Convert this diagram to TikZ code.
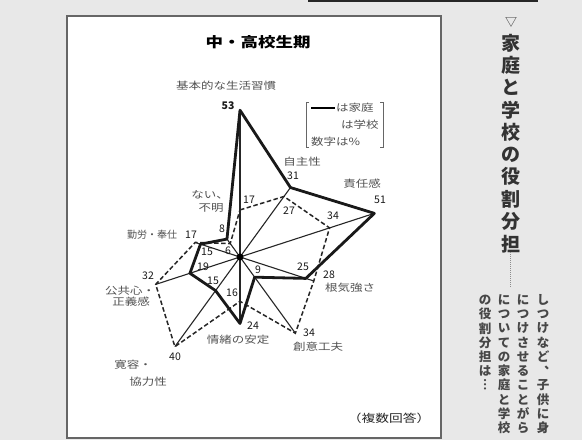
\documentclass[tikz,border=0pt]{standalone}
\usepackage{fontspec}
\newfontfamily\jp{Noto Sans CJK JP}
\newfontfamily\jpw{Noto Sans CJK JP}[FakeStretch=1.25]
\begin{document}
\begin{tikzpicture}[x=1pt,y=-1pt,
  lab/.style={font=\jpw\fontsize{10}{10}\selectfont, text=black!68, inner sep=0},
  num/.style={font=\jp\fontsize{10.5}{10.5}\selectfont, text=black!90, inner sep=0},
  homeline/.style={line width=2.8pt, line join=round, black!90},
  schoolline/.style={line width=1.5pt, dash pattern=on 4.5pt off 2.5pt, black!85},
  axisline/.style={line width=1.1pt, black!85},
  hd/.style={font=\jp\bfseries\fontsize{19}{19}\selectfont, text=black!80, inner sep=0},
  colt/.style={font=\jp\bfseries\fontsize{12.5}{12.5}\selectfont, text=black!72, inner sep=0}]
\useasboundingbox (0,0) rectangle (582,440);
\fill[black!9] (0,0) rectangle (582,440);
\draw[black!60, line width=1.8pt, fill=white] (67,16) rectangle (441,438);
\coordinate (tl1) at (308,1);
\coordinate (tl2) at (538,1);
\draw[line width=1.8pt, black!85] (tl1) -- (tl2);

% title
\node[font=\jpw\bfseries\fontsize{14}{14}\selectfont, inner sep=0] (title) at (258,42) {中・高校生期};

% radar
\begin{scope}[shift={(240,257)}]
\coordinate (O) at (0,0);
\foreach \n/\a/\h/\s in {A/-90/53/17, B/-54/31/27, C/-18/51/34, D/18/25/28, E/54/9/34, F/90/24/16, G/126/15/40, H/162/19/32, I/198/15/17, J/234/8/6} {
  \pgfmathsetmacro\m{max(\h,\s)}
  \coordinate (h\n) at (\a:\h*2.77);
  \coordinate (s\n) at (\a:\s*2.77);
  \coordinate (e\n) at (\a:\m*2.77);
}
\end{scope}
\foreach \n in {A,B,C,D,E,F,G,H,I,J} \draw[axisline] (O) -- (e\n);
\draw[schoolline] (sA) -- (sB) -- (sC) -- (sD) -- (sE) -- (sF) -- (sG) -- (sH) -- (sI) -- (sJ) -- cycle;
\draw[homeline] (hA) -- (hB) -- (hC) -- (hD) -- (hE) -- (hF) -- (hG) -- (hH) -- (hI) -- (hJ) -- cycle;
\fill[black] (O) circle (3.5);

% numbers
\node[num, font=\jp\bfseries\fontsize{10.5}{10.5}\selectfont] (n53) at (228,106) {53};
\node[num] (n17a) at (249,200) {17};
\node[num] (n27) at (289,211) {27};
\node[num] (n31) at (293,176) {31};
\node[num] (n34a) at (333,216) {34};
\node[num] (n51) at (380,200) {51};
\node[num] (n25) at (303,267) {25};
\node[num] (n28) at (329,275) {28};
\node[num] (n9) at (258,270) {9};
\node[num] (n34b) at (309,333) {34};
\node[num] (n24) at (253,326) {24};
\node[num] (n16) at (232,293) {16};
\node[num] (n15a) at (213,281) {15};
\node[num] (n40) at (175,357) {40};
\node[num] (n19) at (203,267) {19};
\node[num] (n32) at (148,276) {32};
\node[num] (n15b) at (207,252) {15};
\node[num] (n17b) at (191,235) {17};
\node[num] (n8) at (222,229) {8};
\node[num] (n6) at (228,251) {6};

% category labels
\node[lab] (lA) at (226,86) {基本的な生活習慣};
\node[lab] (lB) at (302,162) {自主性};
\node[lab] (lC) at (362,184) {責任感};
\node[lab] (lJ1) at (210,195) {ない、};
\node[lab] (lJ2) at (211,208) {不明};
\node[lab, font=\jp\fontsize{10}{10}\selectfont] (lI) at (152,235) {勤労・奉仕};
\node[lab] (lH1) at (130,291) {公共心・};
\node[lab] (lH2) at (131,302) {正義感};
\node[lab] (lG1) at (133,365) {寛容・};
\node[lab] (lG2) at (148,382) {協力性};
\node[lab] (lF) at (238,340) {情緒の安定};
\node[lab] (lE) at (318,347) {創意工夫};
\node[lab] (lD) at (350,288) {根気強さ};
\node[lab, text=black!85, font=\jpw\fontsize{11}{11}\selectfont] (note) at (389,418) {（複数回答）};

% legend
\coordinate (lg1) at (311,108);
\coordinate (lg2) at (335,108);
\draw[line width=2.8pt] (lg1) -- (lg2);
\node[lab, anchor=west] (lgh) at (336,108) {は家庭};
\node[lab, anchor=west] (lgs) at (341,125) {は学校};
\node[lab, anchor=west] (lgn) at (311,142) {数字は\%};
\draw[black!60, line width=0.9pt] (309,102) -- (306,102) -- (306,147) -- (309,147);
\draw[black!60, line width=0.9pt] (380,102) -- (383,102) -- (383,147) -- (380,147);

% right column heading (vertical)
\node[font=\jp\fontsize{12}{12}\selectfont, text=black!80, inner sep=0] (tri) at (511,22) {▽};
\foreach \c [count=\i from 0] in {家,庭,と,学,校,の,役,割,分,担}
  \node[hd] (hd\i) at (511,43+22.3*\i) {\c};
\coordinate (dl1) at (510,252);
\coordinate (dl2) at (510,288);
\draw[black!45, line width=1pt, dash pattern=on 1pt off 1pt] (dl1) -- (dl2);

% body text columns (vertical)
\foreach \c [count=\i from 0] in {し,つ,け,な,ど,︑,子,供,に,身}
  \node[colt] (ca\i) at (543,300+14.2*\i) {\c};
\foreach \c [count=\i from 0] in {に,つ,け,さ,せ,る,こ,と,が,ら}
  \node[colt] (cb\i) at (523,300+14.2*\i) {\c};
\foreach \c [count=\i from 0] in {に,つ,い,て,の,家,庭,と,学,校}
  \node[colt] (cc\i) at (504,300+14.2*\i) {\c};
\foreach \c [count=\i from 0] in {の,役,割,分,担,は,︙}
  \node[colt] (cd\i) at (485,300+14.2*\i) {\c};
\end{tikzpicture}
\end{document}
